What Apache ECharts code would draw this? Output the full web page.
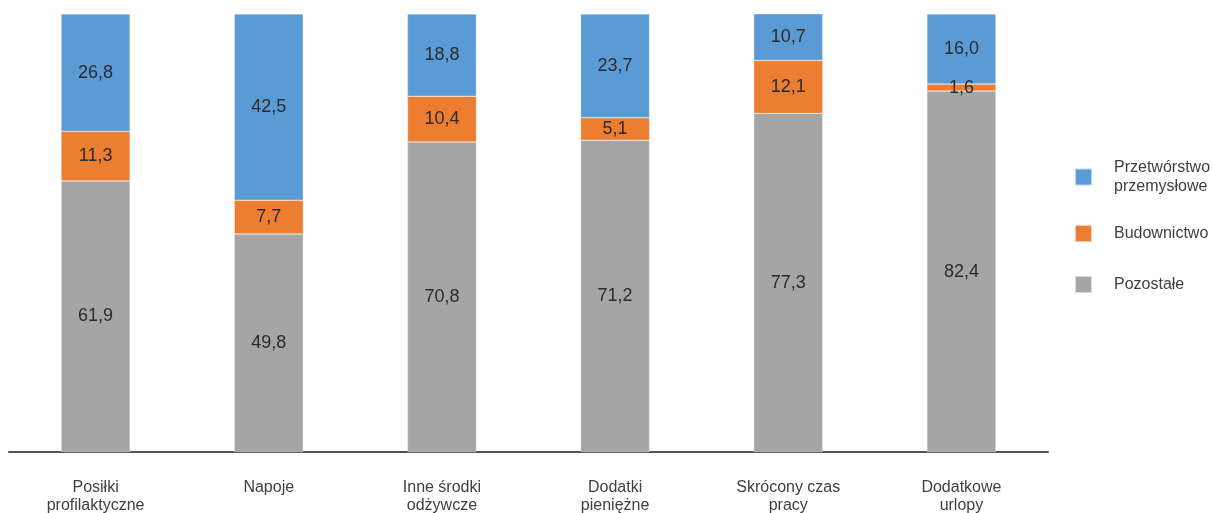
<!DOCTYPE html>
<html><head><meta charset="utf-8">
<script src="https://cdn.jsdelivr.net/npm/echarts@6/dist/echarts.min.js"></script>
<style>html,body{margin:0;padding:0;background:#fff}#c{width:1212px;height:513px}</style>
</head><body><div id="c"></div>
<script>
const categories = ['Posiłki\nprofilaktyczne','Napoje','Inne środki\nodżywcze','Dodatki\npieniężne','Skrócony czas\npracy','Dodatkowe\nurlopy'];
const pozostale = [61.9, 49.8, 70.8, 71.2, 77.3, 82.4];
const budownictwo = [11.3, 7.7, 10.4, 5.1, 12.1, 1.6];
const przetworstwo = [26.8, 42.5, 18.8, 23.7, 10.7, 16.0];
const seriesNames = ['Pozostałe','Budownictwo','Przetwórstwo\nprzemysłowe'];
const colors = ['#A5A5A5','#ED7D31','#5B9BD5'];

const font = 'Liberation Sans, Arial, sans-serif';
const chart = echarts.init(document.getElementById('c'));
const fmt = p => p.value.toFixed(1).replace('.', ',');
function mk(name, data, color) {
  return {
    name, type: 'bar', stack: 'a', data, barWidth: 69,
    itemStyle: {color, borderColor: 'rgba(255,255,255,0.6)', borderWidth: 0.5},
    label: {show: true, position: 'inside', formatter: fmt, color: '#2b2b2b', fontSize: 18, fontFamily: font},
    emphasis: {disabled: true}
  };
}
function lg(name, top) {
  return {
    orient: 'vertical', left: 1069, top, data: [name], itemWidth: 17, itemHeight: 17,
    icon: 'rect', selectedMode: false,
    textStyle: {color: '#404040', fontSize: 16, fontFamily: font, lineHeight: 19, padding: [0,0,0,17]}
  };
}
chart.setOption({
  animation: false,
  color: colors,
  grid: {left: 9, right: 164, top: 14, bottom: 61, containLabel: false, outerBoundsMode: 'none'},
  legend: [lg(seriesNames[2], 153), lg(seriesNames[1], 219), lg(seriesNames[0], 270)],
  xAxis: {
    type: 'category', data: categories,
    axisLine: {lineStyle: {color: '#555', width: 2}},
    axisTick: {show: false},
    axisLabel: {color: '#404040', fontSize: 16, fontFamily: font, lineHeight: 18, margin: 27, interval: 0}
  },
  yAxis: {type: 'value', min: 0, max: 100, show: false, splitLine: {show: false}},
  series: [mk(seriesNames[0], pozostale, colors[0]), mk(seriesNames[1], budownictwo, colors[1]), mk(seriesNames[2], przetworstwo, colors[2])]
});
</script></body></html>
